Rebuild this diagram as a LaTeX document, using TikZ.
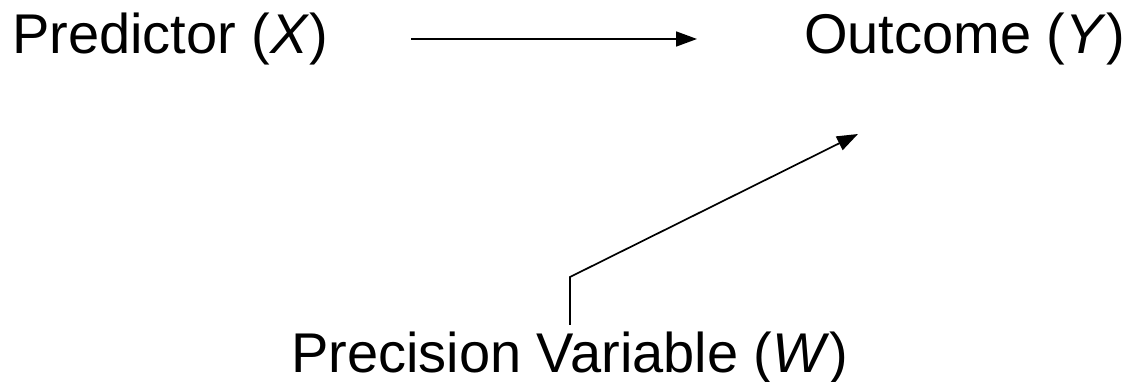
\documentclass[tikz,border=0pt]{standalone}
\usepackage{fontspec}
\setmainfont{Liberation Sans}
\usetikzlibrary{arrows.meta}
\begin{document}
\begin{tikzpicture}[x=1pt,y=1pt,
  lbl/.style={anchor=base west,inner sep=0pt,font=\fontsize{56}{60}\selectfont},
  conn/.style={line width=1.7pt,-{Triangle[length=21pt,width=15pt]}}]
\useasboundingbox (0,0) rectangle (1133,382);
\node[lbl] (X) at (12,328) {Predictor (\textit{X})};
\node[lbl] (Y) at (804,328) {Outcome (\textit{Y})};
\node[lbl] (W) at (291,9) {Precision Variable (\textit{W})};
\coordinate (xs) at (411,343);
\coordinate (xe) at (697,343);
\coordinate (ws) at (570,57);
\coordinate (wb) at (570,105);
\coordinate (we) at (858,248);
\draw[conn] (xs) -- (xe);
\draw[conn] (ws) -- (wb) -- (we);
\end{tikzpicture}
\end{document}
